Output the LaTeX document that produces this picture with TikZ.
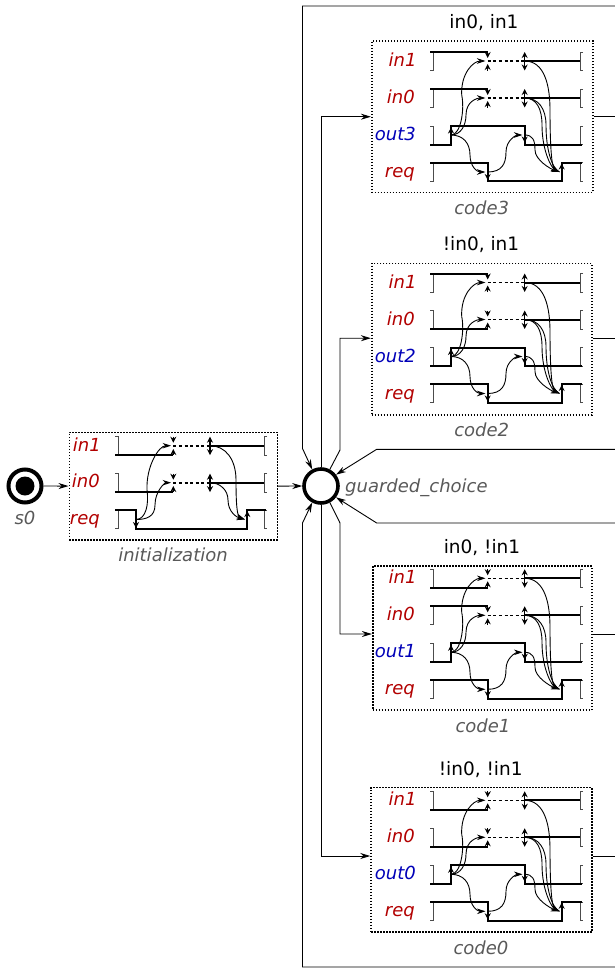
\documentclass[tikz,border=0pt]{standalone}
\usepackage{fontspec}
\setmainfont{DejaVu Sans}
\usetikzlibrary{arrows.meta}
\definecolor{inred}{rgb}{0.70,0,0}
\definecolor{outblue}{rgb}{0,0,0.72}
\definecolor{lab}{gray}{0.35}
\tikzset{
  flow/.style={line width=0.9pt,-{Stealth[length=10pt,width=6pt]}},
  plainline/.style={line width=0.9pt},
  dotbox/.style={draw,line width=1.6pt,dash pattern=on 1.5pt off 1.5pt,inner sep=0pt,minimum width=221pt,minimum height=151pt},
  wave/.style={line width=2pt},
  tick/.style={line width=0.9pt,black!70},
  tr/.style={line width=1.4pt,-{Stealth[length=6pt,width=6pt]}},
  trr/.style={line width=1.4pt,{Stealth[length=6pt,width=6pt]}-{Stealth[length=6pt,width=6pt]}},
  dashl/.style={line width=1.6pt,dash pattern=on 3pt off 2.6pt},
  arcl/.style={line width=0.9pt,-{Stealth[length=8.5pt,width=5.5pt]}},
  sigred/.style={font=\fontsize{18}{20}\selectfont\itshape,text=inred,anchor=base east,inner sep=0pt},
  sigblue/.style={font=\fontsize{18}{20}\selectfont\itshape,text=outblue,anchor=base east,inner sep=0pt},
  caption/.style={font=\fontsize{18}{20}\selectfont\itshape,text=lab,anchor=base,inner sep=0pt},
  cond/.style={font=\fontsize{18.5}{20}\selectfont,anchor=base,inner sep=0pt},
}
\newcommand{\lbr}[2]{\draw[tick] (#1-3,#2) -- (#1,#2) -- (#1,#2+18.5) -- (#1-3,#2+18.5);}
\newcommand{\rbr}[2]{\draw[tick] (#1+3,#2) -- (#1,#2) -- (#1,#2+18.5) -- (#1+3,#2+18.5);}
% #1 id, #2 y offset, #3 output name, #4 y of in1 start level, #5 y of in0 start level
\newcommand{\signals}[5]{%
\begin{scope}[shift={(0,#2)}]
  \coordinate (#1mid) at (480,116.7);
  \node[sigred] (#1l1) at (416.7,66.5) {in1};
  \node[sigred] (#1l0) at (415,103.5) {in0};
  \node[sigblue] (#1lo) at (416,140.5) {#3};
  \node[sigred] (#1lr) at (415,177.5) {req};
  \foreach \yy in {52,89,126,162.7} {\lbr{433.3}{\yy}\rbr{580}{\yy}}
  \coordinate (#1a1) at (487.7,61);
  \coordinate (#1a0) at (487.7,98);
  \coordinate (#1b1) at (524.7,61);
  \coordinate (#1b0) at (524.7,98);
  \coordinate (#1oup) at (451,135);
  \coordinate (#1odn) at (524.7,135);
  \coordinate (#1rdn) at (487.7,172);
  \coordinate (#1rup) at (559.5,172);
  % in1
  \draw[wave] (430,#4) -- (487.7,#4);
  \draw[tr] (487.7,52) -- (487.7,58);
  \draw[tr] (487.7,70.5) -- (487.7,64);
  \draw[dashl] (#1a1) -- (#1b1);
  \draw[trr] (524.7,52) -- (524.7,70.5);
  \draw[wave] (#1b1) -- (580,61);
  % in0
  \draw[wave] (430,#5) -- (487.7,#5);
  \draw[tr] (487.7,89) -- (487.7,95);
  \draw[tr] (487.7,107.5) -- (487.7,101);
  \draw[dashl] (#1a0) -- (#1b0);
  \draw[trr] (524.7,89) -- (524.7,107.5);
  \draw[wave] (#1b0) -- (580,98);
  % out
  \draw[wave] (430,144.5) -- (451,144.5) -- (451,126) -- (524.7,126) -- (524.7,144.5) -- (582,144.5);
  \draw[tr] (451,135) -- (451,127.5);
  \draw[tr] (524.7,127) -- (524.7,142.5);
  % req
  \draw[wave] (430,162.7) -- (487.7,162.7) -- (487.7,181.2) -- (561.7,181.2) -- (561.7,162.7) -- (582,162.7);
  \draw[tr] (487.7,172) -- (487.7,180);
  \draw[tr] (561.7,172) -- (561.7,163.5);
  % causality arcs
  \draw[arcl] (#1oup) .. controls +(10,0) and +(3,14) .. (461.7,95) .. controls +(-1,-22) and +(-12,0) .. (485.5,61);
  \draw[arcl] (#1oup) .. controls +(10,0) and +(0,10) .. (466,115) .. controls +(0,-14) and +(-8,0) .. (485.5,98);
  \draw[arcl] (#1oup) .. controls +(12,0) and +(0,-12) .. (470,155) .. controls +(0,12) and +(-8,0) .. (485.5,172);
  \draw[arcl] (#1rdn) .. controls +(14,0) and +(0,12) .. (506,152) .. controls +(0,-12) and +(-6,0) .. (522.5,135);
  \draw[arcl] (#1b1) .. controls +(20,0) and +(0,-24) .. (550,110) .. controls +(0,34) and +(-8,-4) .. (#1rup);
  \draw[arcl] (#1b0) .. controls +(12,0) and +(0,-16) .. (542,125) .. controls +(0,26) and +(-8,-4) .. (#1rup);
  \draw[line width=0.9pt] (#1b0) .. controls +(14,0) and +(0,-16) .. (546,125) .. controls +(0,24) and +(-8,-4) .. (#1rup);
  \draw[arcl] (#1odn) .. controls +(8,0) and +(0,-10) .. (535,150) .. controls +(0,10) and +(-9,-3) .. (#1rup);
\end{scope}}
\begin{document}
\begin{tikzpicture}[x=1pt,y=-1pt]
\useasboundingbox (0,0) rectangle (615,969);
% initial state
\node[circle,draw,line width=4pt,minimum size=33pt,inner sep=0pt] (s0) at (25,486) {};
\node[circle,fill=black,minimum size=19pt,inner sep=0pt] (s0dot) at (25,486) {};
\node[caption] (s0lab) at (25,524) {s0};
% initialization
\node[dotbox,minimum width=208pt,minimum height=107.5pt] (init) at (173.3,486.2) {};
\node[caption] (initcap) at (173,561.7) {initialization};
\node[sigred] (il1) at (101,451) {in1};
\node[sigred] (il0) at (100,487.7) {in0};
\node[sigred] (ilr) at (100,524.5) {req};
\foreach \yy in {436.7,473.7,510.3} {\lbr{118}{\yy}\rbr{264}{\yy}}
\coordinate (ia1) at (173.3,445.7);
\coordinate (ia0) at (173.3,482.7);
\coordinate (ib1) at (210,445.7);
\coordinate (ib0) at (210,482.7);
\coordinate (irdn) at (136,519.5);
\coordinate (irup) at (245,519.5);
\draw[wave] (115,455.2) -- (173.3,455.2);
\draw[tr] (173.3,455.2) -- (173.3,449);
\draw[tr] (173.3,436.7) -- (173.3,442.7);
\draw[dashl] (ia1) -- (ib1);
\draw[trr] (210,436.7) -- (210,455.2);
\draw[wave] (ib1) -- (264,445.7);
\draw[wave] (115,492.2) -- (173.3,492.2);
\draw[tr] (173.3,492.2) -- (173.3,486);
\draw[tr] (173.3,473.7) -- (173.3,479.7);
\draw[dashl] (ia0) -- (ib0);
\draw[trr] (210,473.7) -- (210,492.2);
\draw[wave] (ib0) -- (264,482.7);
\draw[wave] (115,510.3) -- (136,510.3) -- (136,529) -- (247.3,529) -- (247.3,510.3) -- (266,510.3);
\draw[tr] (136,519.5) -- (136,528);
\draw[tr] (247.3,519.5) -- (247.3,511);
\draw[arcl] (irdn) .. controls +(10,0) and +(2,14) .. (147,490) .. controls +(-1,-24) and +(-12,0) .. (171,445.7);
\draw[arcl] (irdn) .. controls +(10,0) and +(0,12) .. (155,505) .. controls +(0,-14) and +(-6,0) .. (171,482.7);
\draw[arcl] (ib1) .. controls +(16,0) and +(0,-20) .. (236,480) .. controls +(0,24) and +(-8,-3) .. (irup);
\draw[arcl] (ib0) .. controls +(10,0) and +(0,-10) .. (228,500) .. controls +(0,12) and +(-8,-2) .. (irup);
% guarded choice
\node[circle,draw,line width=3.6pt,minimum size=34pt,inner sep=0pt] (gc) at (321,486) {};
\node[caption,anchor=base west] (gclab) at (345,492.5) {guarded\_choice};
\draw[flow] (s0) -- (init);
\draw[flow] (init) -- (gc);
% code blocks
\node[dotbox,minimum width=221pt,minimum height=151.3pt] (cthree) at (482.2,116.7) {};
\node[dotbox,minimum width=220pt,minimum height=151.7pt] (ctwo) at (481.7,339.2) {};
\node[dotbox,minimum width=219pt,minimum height=144pt] (cone) at (482.2,638) {};
\node[dotbox,minimum width=220.7pt,minimum height=144.3pt] (czero) at (481.4,859.8) {};
\node[cond] (cthreecond) at (484,28) {in0, in1};
\node[cond] (ctwocond) at (481,250.5) {!in0, in1};
\node[cond] (conecond) at (482,553.3) {in0, !in1};
\node[cond] (czerocond) at (480.7,775.3) {!in0, !in1};
\node[caption] (cthreecap) at (481.7,214.3) {code3};
\node[caption] (ctwocap) at (481.7,436) {code2};
\node[caption] (conecap) at (483,732.7) {code1};
\node[caption] (czerocap) at (481,954.7) {code0};
\signals{cthree}{0}{out3}{52}{89}
\signals{ctwo}{221.5}{out2}{52}{107.5}
\signals{cone}{517.3}{out1}{70.5}{89}
\signals{czero}{739.3}{out0}{70.5}{107.5}
% choice to blocks
\coordinate (bendU) at (340,450);
\coordinate (bendD) at (340,523);
\draw[flow] (gc.north) |- (cthreemid -| cthree.west);
\draw[flow] (gc.south) |- (czeromid -| czero.west);
\draw[flow] (gc.62) -- (bendU) |- (ctwomid -| ctwo.west);
\draw[flow] (gc.-62) -- (bendD) |- (conemid -| cone.west);
% returns
\coordinate (tr) at (615,6);
\coordinate (tl) at (302.5,6);
\coordinate (lu) at (302.5,448.5);
\coordinate (br) at (615,967);
\coordinate (bl) at (302.5,967);
\coordinate (ld) at (302.5,523);
\coordinate (ru) at (615,449.3);
\coordinate (ruk) at (376.7,449.3);
\coordinate (rd) at (615,523);
\coordinate (rdk) at (376.7,523);
\draw[flow] (tr) -- (tl) -- (lu) -- (gc.118);
\draw[flow] (br) -- (bl) -- (ld) -- (gc.-118);
\draw[flow] (ru) -- (ruk) -- (gc.37);
\draw[flow] (rd) -- (rdk) -- (gc.-37);
\coordinate (e3) at (615,116.7);
\coordinate (e2) at (615,338.2);
\coordinate (e1) at (615,634);
\coordinate (e0) at (615,856);
\draw[plainline] (cthreemid -| cthree.east) -- (e3);
\draw[plainline] (ctwomid -| ctwo.east) -- (e2);
\draw[plainline] (conemid -| cone.east) -- (e1);
\draw[plainline] (czeromid -| czero.east) -- (e0);
\end{tikzpicture}
\end{document}
